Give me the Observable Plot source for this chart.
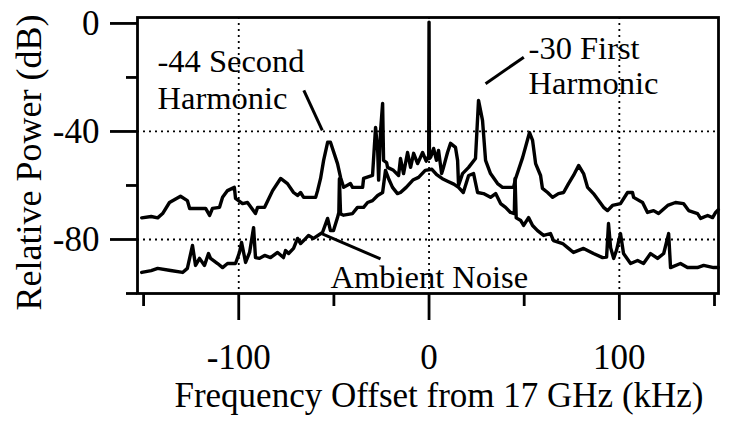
<!DOCTYPE html>
<html><head><meta charset="utf-8">
<script src="https://cdn.jsdelivr.net/npm/d3@7"></script>
<script src="https://cdn.jsdelivr.net/npm/@observablehq/plot@0.6"></script>
<style>html,body{margin:0;padding:0;background:#fff}</style>
</head><body><div id="chart"></div>
<script>
// Upper trace: spectrum with carrier and harmonics (kHz offset, dB)
const signalFreq = [-151,-146,-142.6,-140,-136.4,-130.6,-127,-125.8,-117.4,-115.3,-113.8,-110.1,-108.5,-105.9,-102.3,-101.7,-98,-95.4,-91.2,-90.1,-86.4,-82.2,-78,-74.4,-71.2,-69.1,-67.5,-65.9,-59.6,-58.6,-57,-55.4,-53.3,-51.8,-48.1,-46.5,-44.9,-41.3,-40.2,-34.9,-34.4,-29.7,-28.1,-27,-26.5,-25.5,-24.4,-23.9,-22.3,-21.8,-18.7,-16,-15,-13.4,-11.3,-9.7,-8.1,-6,-3.4,-1.5,-0.6,-0.2,0,0.2,0.8,2.4,3.9,5,6.6,7.6,9.7,11.3,13.9,15,15.5,17.6,20.8,24.4,26,28.1,29.7,32.3,36,38.6,44.4,45.5,49.2,52.8,54.4,56,58.6,59.6,62.3,64.9,68,70.7,73.3,75.9,78.6,81.2,83.3,86.4,91.7,93.8,96.4,100.6,104.3,106.9,107.5,112.2,114.8,118,120.6,125.4,129.5,133.7,136.4,141.1,142.7,146.4,149,150.6,152];
const signalPower = [-72,-71.5,-72,-70.4,-66.3,-64,-65.6,-68.5,-68.5,-71.1,-68.5,-68.1,-64.4,-61.9,-60.7,-64.8,-66.7,-66.3,-70.4,-68.1,-68.1,-61.9,-57.4,-59.3,-62.6,-63.7,-62.6,-64.4,-64.4,-62,-57.4,-50.7,-44,-44,-51.9,-57,-60.7,-59.3,-60.7,-60.7,-57.4,-56.3,-38.5,-47,-58,-40,-29.6,-50.7,-51.5,-53.3,-54.4,-56.3,-50,-55.6,-47.8,-53.3,-48.1,-51.9,-47.8,-51,-49.6,-50,0.5,-50,-49.6,-46.3,-50.7,-47,-55.6,-53.3,-47.8,-44.4,-45.9,-50.7,-60,-55.6,-53.3,-50,-28.5,-35.9,-50.7,-55.6,-59.3,-60.7,-60.7,-57.4,-49.6,-40.4,-43.3,-51.9,-56.3,-61.1,-62.6,-64.4,-63,-62.6,-59.3,-56.3,-52.6,-55.6,-60.7,-63,-68.1,-69.3,-67.4,-66.7,-62.6,-62.6,-64.4,-66.3,-70,-69.3,-70.4,-67.4,-66.3,-66.7,-69.3,-70.4,-72.2,-71.1,-71.9,-70,-69];

// Lower trace: ambient noise
const noiseFreq = [-151,-146,-142.6,-135.8,-129.5,-127,-124.3,-122.7,-120.6,-118,-115.9,-114.8,-111.1,-108.5,-105.9,-101.7,-99.6,-98.5,-96.4,-94.3,-92.2,-91.2,-89.1,-86.4,-83.3,-79.6,-76.5,-75.4,-73.8,-71.2,-69.1,-67.5,-65.9,-63.3,-60.7,-56,-53.3,-51.8,-50.2,-48.1,-47.4,-47.1,-46.5,-44.9,-40.2,-37.6,-34.4,-32.3,-29.7,-27,-24.4,-22.9,-21.3,-19.2,-16.6,-15,-12,-8.5,-5.5,-2,1.5,4,7,10,13,15.5,18,20.8,23.4,25.5,28.6,32.3,35,37.6,40.2,42.8,44.8,45.2,45.8,48.2,49.7,52.3,54.4,57,60.2,63.8,65.4,70.2,73.3,75.9,81.2,86.4,91.2,93.3,94.3,95.4,97,98.5,100.6,102.2,105.9,109.6,112.7,116.4,120.1,123.3,125.9,126.9,132.1,135.8,141,144.3,149.5,152];
const noisePower = [-92.2,-91.5,-90.7,-91.5,-92.2,-90.7,-82.2,-89.6,-87,-89.6,-85.2,-87,-88.9,-90.4,-88.9,-88.9,-84.8,-81.1,-88.5,-84.8,-75.6,-86.7,-87,-85.9,-86.7,-84.8,-86.7,-84.1,-85.2,-83.3,-79.6,-81.5,-80.4,-78.5,-79.6,-77.4,-72.2,-76.7,-76.7,-71.9,-70,-57.5,-70.5,-71,-70.4,-68.1,-68.1,-66.3,-65.6,-63.7,-62.6,-54.4,-57.4,-60.7,-63,-62.6,-60.7,-58,-57,-54.4,-54,-56,-57.5,-58.5,-59.5,-60.7,-62.6,-56.3,-55.6,-62.6,-63,-64.4,-63,-66.7,-68.1,-70,-70.4,-57.4,-72,-73,-74.8,-71.9,-74.8,-76.7,-78.5,-77.8,-80.4,-81.5,-83.3,-84.8,-83.3,-85.2,-86.7,-86.5,-74.1,-83,-87,-84,-77.8,-85.2,-88.9,-87.8,-88.9,-85.2,-87,-85.2,-77.8,-90.4,-88.9,-90.4,-90.4,-89.6,-90.4,-90.4];

const xMajorTicks = [-100, 0, 100];
const xMinorTicks = [-150, -50, 50, 150];
const yMajorTicks = [0, -40, -80];
const yMinorTicks = [-20, -60, -100];
const xGrid = [-100, 0, 100];
const yGrid = [-40, -80];

const xTitle = "Frequency Offset from 17 GHz (kHz)";
const yTitle = "Relative Power (dB)";

// annotation text lines (data units) and leader lines
const annoLabels = ["-44 Second", "Harmonic", "-30 First", "Harmonic", "Ambient Noise"];
const annoX = [-142.7, -142.7, 52.3, 52.3, -51.8];
const annoY = [-18.1, -31.5, -13.3, -26, -98.1];
const leaderX1 = [-65.8, 29.7, -56.1];
const leaderY1 = [-24.8, -22.3, -77.9];
const leaderX2 = [-56.1, 49.8, -25.5];
const leaderY2 = [-39.6, -12.5, -87.2];

const signal = signalFreq.map((x, i) => ({x, y: signalPower[i]}));
const noise = noiseFreq.map((x, i) => ({x, y: noisePower[i]}));
const annos = annoLabels.map((label, i) => ({label, x: annoX[i], y: annoY[i]}));
const leaders = leaderX1.map((x1, i) => ({x1, y1: leaderY1[i], x2: leaderX2[i], y2: leaderY2[i]}));

const fmt = d => String(d);

const chart = Plot.plot({
  width: 737,
  height: 421,
  marginLeft: 137,
  marginRight: 19,
  marginTop: 17,
  marginBottom: 128,
  style: {fontFamily: "'Liberation Serif', 'Times New Roman', serif", background: "white", color: "black"},
  x: {domain: [-153.2, 152.1], label: null},
  y: {domain: [-100, 2.2], label: null},
  marks: [
    Plot.gridX(xGrid, {stroke: "black", strokeOpacity: 1, strokeWidth: 1.8, strokeDasharray: "2,4"}),
    Plot.gridY(yGrid, {stroke: "black", strokeOpacity: 1, strokeWidth: 1.8, strokeDasharray: "2,4"}),
    Plot.line(noise, {x: "x", y: "y", stroke: "black", strokeWidth: 3.4}),
    Plot.line(signal, {x: "x", y: "y", stroke: "black", strokeWidth: 3.4}),
    Plot.frame({stroke: "black", strokeWidth: 2.8}),
    Plot.axisX({ticks: xMajorTicks, tickSize: 27, tickPadding: 24, fontSize: 35, strokeWidth: 2.8, tickFormat: fmt, label: null}),
    Plot.axisX({ticks: xMinorTicks, tickSize: 13, strokeWidth: 2.8, tickFormat: () => "", label: null}),
    Plot.axisY({ticks: yMajorTicks, tickSize: 27, tickPadding: 11, fontSize: 35, strokeWidth: 2.8, tickFormat: fmt, label: null}),
    Plot.axisY({ticks: yMinorTicks, tickSize: 11, strokeWidth: 2.8, tickFormat: () => "", label: null}),
    Plot.link(leaders, {x1: "x1", y1: "y1", x2: "x2", y2: "y2", stroke: "black", strokeWidth: 3}),
    Plot.text(annos, {x: "x", y: "y", text: "label", textAnchor: "start", lineAnchor: "bottom", fontSize: 32.5, fill: "black"}),
    Plot.text([xTitle], {frameAnchor: "bottom", dx: 11, dy: 113, lineAnchor: "bottom", fontSize: 35, fill: "black"}),
    Plot.text([yTitle], {frameAnchor: "left", dx: -108, dy: 7, rotate: -90, lineAnchor: "middle", textAnchor: "middle", fontSize: 36, fill: "black"})
  ]
});
document.getElementById("chart").appendChild(chart);
</script>
</body></html>
